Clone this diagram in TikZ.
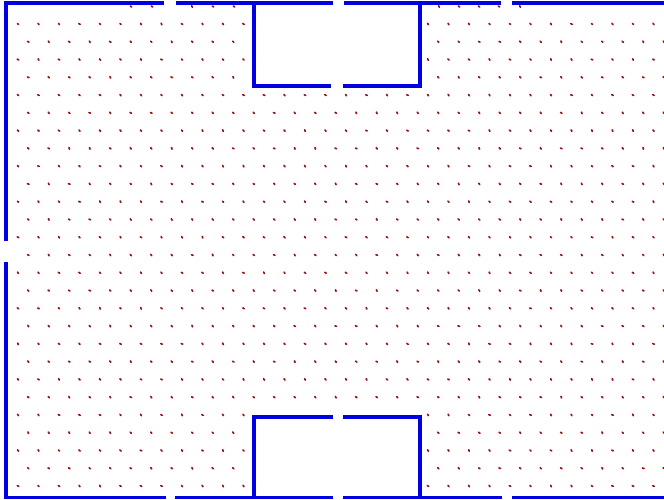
\documentclass[tikz,border=0pt]{standalone}
\definecolor{wallblue}{RGB}{0,0,225}
\definecolor{dotred}{RGB}{150,20,20}
\begin{document}
\begin{tikzpicture}[x=1pt,y=-1pt,
  wall/.style={line width=3.2pt,draw=wallblue,line cap=butt,line join=miter},
  dotm/.style={line width=1.7pt,draw=dotred,line cap=round}]
\useasboundingbox (0,0) rectangle (664,499);
\fill[white] (0,0) rectangle (664,499);
\pgfmathsetseed{7}
% particle markers, hexagonal grid
\foreach \k in {0,...,26}{
  \pgfmathsetmacro\yy{24+17.77*\k}
  \pgfmathsetmacro\off{mod(\k,2)==0 ? 18 : 28.25}
  \foreach \m in {0,...,31}{
    \pgfmathsetmacro\xx{\off+20.5*\m}
    \pgfmathtruncatemacro\skipit{(\xx>248 && \xx<424 && (\yy<90 || \yy>405)) ? 1 : 0}
    \ifnum\skipit=0
      \pgfmathsetmacro\ang{45+25*rand}
      \draw[dotm] (\xx,\yy) ++(\ang+180:0.8) -- ++(\ang:1.6);
    \fi
  }
}
\foreach \xx in {131,152,192,213,234,439,459,479,499,520}{
  \pgfmathsetmacro\ang{45+25*rand}
  \draw[dotm] (\xx,6.5) ++(\ang+180:0.8) -- ++(\ang:1.6);
}
% walls
\draw[wall] (6,241) -- (6,3) -- (164,3);
\draw[wall] (176,3) -- (333,3);
\draw[wall] (344,3) -- (501,3);
\draw[wall] (512,3) -- (666,3);
\draw[wall] (254,3) -- (254,86) -- (331,86);
\draw[wall] (343,86) -- (420,86) -- (420,3);
\draw[wall] (6,262) -- (6,497.5) -- (166,497.5);
\draw[wall] (175,497.5) -- (333,497.5);
\draw[wall] (343,497.5) -- (502,497.5);
\draw[wall] (512,497.5) -- (666,497.5);
\draw[wall] (254,497.5) -- (254,417) -- (333,417);
\draw[wall] (343,417) -- (420,417) -- (420,497.5);
\end{tikzpicture}
\end{document}
